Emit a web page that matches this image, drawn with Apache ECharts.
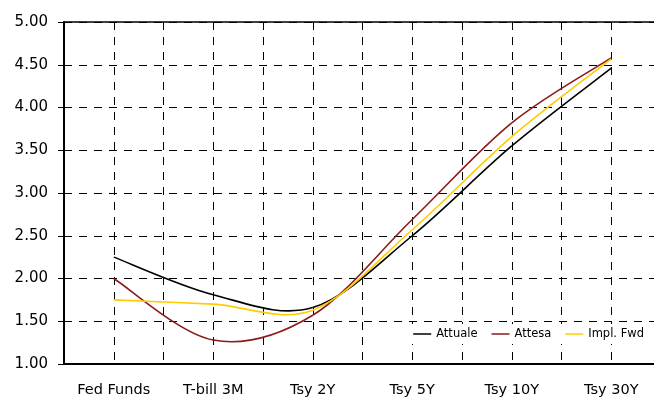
<!DOCTYPE html>
<html>
<head>
<meta charset="utf-8">
<script src="https://cdn.jsdelivr.net/npm/echarts@6/dist/echarts.min.js"></script>
<style>
  html, body { margin: 0; padding: 0; background: #fff; }
  #chart { width: 654px; height: 397px; }
</style>
</head>
<body>
<div id="chart"></div>
<script>
const categories = ['Fed Funds', 'T-bill 3M', 'Tsy 2Y', 'Tsy 5Y', 'Tsy 10Y', 'Tsy 30Y']
const attuale = [2.25, 1.81, 1.66, 2.50, 3.55, 4.46]
const attesa = [2.00, 1.28, 1.57, 2.69, 3.82, 4.58]
const implFwd = [1.75, 1.70, 1.63, 2.57, 3.66, 4.57]

const font = 'DejaVu Sans'
const dashed = { color: '#000', width: 1, type: [8, 7] }

const chart = echarts.init(document.getElementById('chart'))

// Excel-like smoothed line: each item draws the segment to the next point
// as a Catmull-Rom bezier (ECharts' own smoothing clamps the overshoot)
const smoothSeries = (name, values, color) => ({
  name: name,
  type: 'custom',
  data: values.map((v, i) => [i, v]),
  encode: { x: 0, y: 1 },
  itemStyle: { color: color },
  z: 3,
  renderItem: (params, api) => {
    const i = params.dataIndex
    if (i >= values.length - 1) return null
    const pt = (k) => {
      const j = Math.max(0, Math.min(values.length - 1, k))
      return api.coord([j, values[j]])
    }
    const p0 = pt(i - 1), p1 = pt(i), p2 = pt(i + 1), p3 = pt(i + 2)
    return {
      type: 'bezierCurve',
      shape: {
        x1: p1[0], y1: p1[1],
        x2: p2[0], y2: p2[1],
        cpx1: p1[0] + (p2[0] - p0[0]) / 6,
        cpy1: p1[1] + (p2[1] - p0[1]) / 6,
        cpx2: p2[0] - (p3[0] - p1[0]) / 6,
        cpy2: p2[1] - (p3[1] - p1[1]) / 6
      },
      style: { stroke: color, lineWidth: 1.6, fill: null }
    }
  }
})

chart.setOption({
  backgroundColor: '#fff',
  animation: false,
  grid: { left: 64, top: 22, bottom: 33, right: -7, outerBoundsMode: 'none' },
  legend: {
    data: ['Attuale', 'Attesa', 'Impl. Fwd'],
    icon: 'rect',
    right: 4,
    top: 324,
    backgroundColor: '#fff',
    padding: [4, 6, 4, 10],
    itemWidth: 18,
    itemHeight: 1.5,
    itemGap: 14,
    textStyle: { fontFamily: font, fontSize: 11.5, color: '#000' }
  },
  xAxis: [
    {
      type: 'category',
      data: categories,
      boundaryGap: true,
      axisLine: { lineStyle: { color: '#000', width: 2 } },
      axisTick: { length: 6, lineStyle: { color: '#000', width: 1 } },
      axisLabel: { color: '#000', fontFamily: font, fontSize: 14.5, margin: 19 },
      splitLine: { show: false }
    },
    {
      // helper axis: top border and vertical dashed grid every half category
      type: 'value',
      position: 'top',
      min: 0,
      max: 12,
      interval: 1,
      axisLine: { show: true, lineStyle: { color: '#000', width: 1.5 } },
      axisTick: { show: false },
      axisLabel: { show: false },
      splitLine: { show: true, lineStyle: dashed }
    }
  ],
  yAxis: {
    type: 'value',
    min: 1,
    max: 5,
    interval: 0.5,
    axisLine: { show: true, lineStyle: { color: '#000', width: 2 } },
    axisTick: { show: true, length: 6, lineStyle: { color: '#000', width: 1 } },
    axisLabel: {
      color: '#000',
      fontFamily: font,
      fontSize: 15,
      margin: 16,
      formatter: (v) => v.toFixed(2)
    },
    splitLine: { show: true, lineStyle: dashed }
  },
  series: [
    smoothSeries('Attuale', attuale, '#000000'),
    smoothSeries('Attesa', attesa, '#8b1a1a'),
    smoothSeries('Impl. Fwd', implFwd, '#ffcc00')
  ]
})
</script>
</body>
</html>
